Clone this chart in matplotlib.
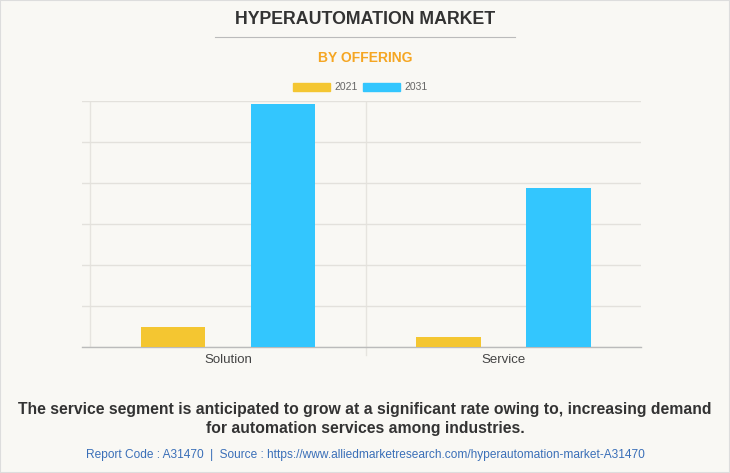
import matplotlib
matplotlib.use("Agg")
import matplotlib.pyplot as plt
from matplotlib.lines import Line2D
from matplotlib.patches import Rectangle
import numpy as np

plt.rcParams["font.family"] = ["Liberation Sans", "DejaVu Sans"]

# data (in grid units; axis has no value labels)
categories = ["Solution", "Service"]
years = ["2021", "2031"]
values_2021 = [0.48, 0.24]
values_2031 = [5.93, 3.89]

COLORS = {"2021": "#F4C631", "2031": "#33C6FE"}
BG = "#F9F8F4"

fig = plt.figure(figsize=(7.3, 4.73), dpi=100, facecolor=BG)
ax = fig.add_axes([82 / 730, 1 - 347 / 473, (641 - 82) / 730, (347 - 101) / 473])
ax.set_facecolor(BG)

x = np.arange(len(categories))
width = 0.235
offset = 0.2
ax.bar(x - offset, values_2021, width, color=COLORS["2021"], zorder=3)
ax.bar(x + offset, values_2031, width, color=COLORS["2031"], zorder=3)

ax.set_xlim(-0.53, 1.5)
ax.set_ylim(0, 6)
ax.set_yticks(np.arange(0, 7, 1))
ax.yaxis.grid(True, color="#E3E1DC", linewidth=1.0, zorder=0)
ax.tick_params(axis="y", left=False, labelleft=False)
ax.set_xticks(x)
ax.set_xticklabels(categories, fontsize=9.5, color="#444444")
ax.tick_params(axis="x", length=0, pad=5)

# category separators
for xb in (-0.5, 0.5):
    ax.axvline(xb, color="#E6E4DF", linewidth=1.0, zorder=1)
ax.plot([0.5, 0.5], [0, -0.2], color="#E6E4DF", linewidth=1.0, clip_on=False)

for side in ("top", "right", "left"):
    ax.spines[side].set_visible(False)
ax.spines["bottom"].set_color("#BBBBBB")
ax.spines["bottom"].set_linewidth(1.0)

# titles
fig.text(0.5, 1 - 20 / 473, "HYPERAUTOMATION MARKET", ha="center", va="center",
         fontsize=12.8, fontweight="bold", color="#333333")
fig.add_artist(Line2D([215 / 730, 515 / 730], [1 - 37 / 473, 1 - 37 / 473],
                      color="#BBBBBB", linewidth=0.8))
fig.text(0.5, 1 - 58 / 473, "BY OFFERING", ha="center", va="center",
         fontsize=10, fontweight="bold", color="#F5A623")

# legend
for patch_x, label_x, year in [(293, 334, "2021"), (363, 404, "2031")]:
    fig.add_artist(Rectangle((patch_x / 730, 1 - 91 / 473), 37 / 730, 8 / 473,
                             transform=fig.transFigure, color=COLORS[year]))
    fig.text(label_x / 730, 1 - 87 / 473, year, ha="left", va="center",
             fontsize=7.5, color="#666666")

fig.text(0.5, 1 - 409 / 473,
         "The service segment is anticipated to grow at a significant rate owing to, increasing demand",
         ha="center", va="center", fontsize=11.3, fontweight="bold", color="#333333")
fig.text(0.5, 1 - 428 / 473, "for automation services among industries.",
         ha="center", va="center", fontsize=11.3, fontweight="bold", color="#333333")
fig.text(0.5, 1 - 455 / 473,
         "Report Code : A31470  |  Source : https://www.alliedmarketresearch.com/hyperautomation-market-A31470",
         ha="center", va="center", fontsize=8.6, color="#3A6FB8")

fig.add_artist(Rectangle((0, 0), 1, 1, transform=fig.transFigure, fill=False,
                         edgecolor="#DDDDDD", linewidth=1.5))

fig.savefig("out.png", dpi=100, facecolor=BG)
